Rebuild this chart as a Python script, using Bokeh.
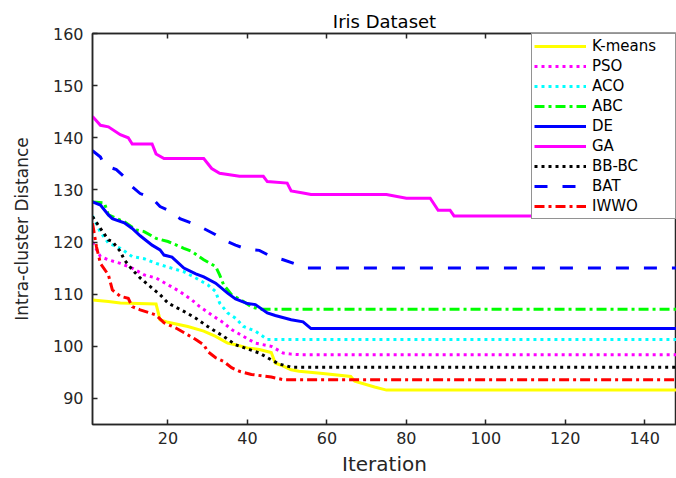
from bokeh.plotting import figure
from bokeh.models import Range1d, FixedTicker, LinearAxis, Legend, LegendItem
from bokeh.embed import file_html
from bokeh.resources import INLINE

# ---- data ----
kmeans_x = [1, 5, 8, 17, 18, 20, 25, 29, 32, 35, 37, 40, 43, 46, 47, 49, 51, 53, 59, 66, 67, 72, 75, 148]
kmeans_y = [108.9, 108.6, 108.3, 108.1, 105.1, 104.6, 103.8, 102.9, 101.9, 100.6, 100.3, 99.7, 99.4, 98.8,
            96.8, 96.2, 95.5, 95.2, 94.8, 94.2, 93.3, 92.2, 91.6, 91.6]

pso_x = [1, 3, 5, 8, 11, 14, 17, 20, 23, 26, 28, 31, 34, 36, 39, 42, 46, 49, 51, 53, 148]
pso_y = [120.0, 117.2, 116.6, 115.9, 115.0, 113.7, 113.1, 111.8, 110.5, 108.9, 107.6, 106.0, 104.5, 103.2,
         101.9, 100.6, 100.0, 98.7, 98.5, 98.4, 98.4]

aco_x = [1, 3, 5, 8, 11, 14, 17, 20, 24, 27, 30, 32, 33, 35, 37, 39, 42, 45, 148]
aco_y = [125.0, 121.9, 119.8, 118.8, 117.2, 116.8, 115.9, 115.2, 114.3, 113.1, 111.8, 110.5, 108.3, 106.4,
         105.4, 103.8, 102.9, 101.3, 101.3]

abc_x = [1, 4, 5, 8, 9, 12, 14, 17, 20, 24, 26, 29, 32, 33, 34, 36, 39, 41, 43, 148]
abc_y = [127.7, 127.5, 125.2, 124.2, 123.9, 122.3, 122.0, 120.7, 120.1, 118.8, 118.2, 116.6, 115.3, 113.7,
         111.8, 109.9, 108.6, 107.6, 107.1, 107.1]

de_x = [1, 3, 5, 6, 9, 11, 13, 16, 18, 19, 21, 24, 27, 29, 32, 35, 37, 40, 42, 45, 47, 51, 54, 56, 148]
de_y = [127.7, 127.1, 125.2, 124.5, 123.7, 122.6, 121.2, 119.4, 118.5, 117.5, 117.1, 115.0, 113.9, 113.3,
        112.1, 110.2, 109.1, 108.2, 108.0, 106.4, 105.9, 105.1, 104.7, 103.4, 103.4]

ga_x = [1, 3, 5, 8, 10, 11, 16, 17, 19, 29, 31, 33, 38, 44, 45, 50, 51, 54, 56, 75, 80, 86, 88, 91, 92, 148]
ga_y = [144.1, 142.4, 142.1, 140.6, 140.0, 138.8, 138.8, 136.9, 136.0, 136.0, 134.1, 133.2, 132.6, 132.6,
        131.6, 131.3, 129.8, 129.4, 129.1, 129.1, 128.4, 128.4, 126.1, 126.1, 125.0, 125.0]

bbbc_x = [1, 3, 5, 6, 8, 9, 11, 13, 15, 18, 20, 24, 27, 30, 34, 37, 40, 43, 46, 48, 51, 148]
bbbc_y = [124.9, 122.6, 120.4, 120.1, 118.2, 116.6, 114.7, 113.1, 111.8, 109.9, 108.3, 106.7, 105.4, 103.8,
          101.9, 100.3, 99.5, 98.7, 97.4, 96.6, 96.0, 96.0]

bat_x = [1, 3, 4, 7, 9, 11, 13, 16, 18, 21, 23, 26, 29, 32, 34, 37, 40, 43, 46, 49, 52, 55, 148]
bat_y = [137.5, 136.3, 134.7, 133.9, 132.5, 130.6, 129.3, 128.4, 126.8, 125.8, 124.5, 123.6, 122.6, 121.4,
         120.4, 119.4, 118.6, 118.4, 117.2, 116.6, 115.8, 115.0, 115.0]

iwwo_x = [1, 2, 3, 5, 6, 8, 10, 11, 13, 17, 19, 22, 25, 27, 29, 30, 32, 34, 36, 38, 41, 46, 49, 148]
iwwo_y = [123.6, 119.1, 115.9, 113.7, 110.8, 109.6, 109.2, 107.6, 107.0, 106.0, 104.5, 103.5, 102.2, 101.3,
          100.3, 99.0, 97.8, 97.1, 95.9, 95.2, 94.6, 94.1, 93.6, 93.6]

x_ticks = [20, 40, 60, 80, 100, 120, 140]
y_ticks = [90, 100, 110, 120, 130, 140, 150, 160]

FONT = "DejaVu Sans"
AX = "#262626"

p = figure(width=676, height=478, output_backend="svg", toolbar_location=None,
           x_range=Range1d(1, 148), y_range=Range1d(85, 160),
           min_border_left=92, min_border_right=0, min_border_top=33, min_border_bottom=53)
p.background_fill_color = "white"
p.border_fill_color = "white"
p.outline_line_color = AX
p.outline_line_width = 1.5
p.xgrid.visible = False
p.ygrid.visible = False

p.title.text = "Iris Dataset"
p.title.align = "center"
p.title.text_font = FONT
p.title.text_font_style = "normal"
p.title.text_font_size = "18px"
p.title.text_color = "black"
p.title.standoff = 4

for ax in (p.xaxis[0], p.yaxis[0]):
    ax.axis_line_color = AX
    ax.axis_line_width = 1.5
    ax.major_tick_line_color = AX
    ax.major_tick_line_width = 1.5
    ax.major_tick_in = 5
    ax.major_tick_out = 0
    ax.minor_tick_line_color = None
    ax.major_label_text_font = FONT
    ax.major_label_text_font_size = "16px"
    ax.major_label_text_color = AX
    ax.axis_label_text_font = FONT
    ax.axis_label_text_font_style = "normal"
    ax.axis_label_text_color = AX

p.xaxis.ticker = FixedTicker(ticks=x_ticks)
p.yaxis.ticker = FixedTicker(ticks=y_ticks)
p.xaxis.axis_label = "Iteration"
p.xaxis.axis_label_text_font_size = "20px"
p.xaxis.major_label_standoff = 7
p.xaxis.axis_label_standoff = 5
p.yaxis.axis_label = "Intra-cluster Distance"
p.yaxis.axis_label_text_font_size = "17px"
p.yaxis.major_label_standoff = 9
p.yaxis.axis_label_standoff = 18

top = LinearAxis(ticker=FixedTicker(ticks=x_ticks),
                 major_label_overrides={t: "" for t in x_ticks},
                 major_label_standoff=0, major_tick_in=5, major_tick_out=0,
                 minor_tick_line_color=None, axis_line_color=AX, axis_line_width=1.5,
                 major_tick_line_color=AX, major_tick_line_width=1.5)
p.add_layout(top, "above")

LW = 3
series = [
    ("K-means", kmeans_x, kmeans_y, "#FFFF00", "solid"),
    ("PSO", pso_x, pso_y, "#FF00FF", "3 4"),
    ("ACO", aco_x, aco_y, "#00FFFF", "3 4"),
    ("ABC", abc_x, abc_y, "#00FF00", "10 4 3 4"),
    ("DE", de_x, de_y, "#0000FF", "solid"),
    ("GA", ga_x, ga_y, "#FF00FF", "solid"),
    ("BB-BC", bbbc_x, bbbc_y, "#000000", "3 4"),
    ("BAT", bat_x, bat_y, "#0000FF", "13 15"),
    ("IWWO", iwwo_x, iwwo_y, "#FF0000", "10 4 3 4"),
]

items = []
for name, xs, ys, col, dash in series:
    r = p.line(xs, ys, line_color=col, line_width=LW, line_dash=dash, line_cap="butt", line_join="miter")
    items.append(LegendItem(label=name, renderers=[r]))

legend = Legend(items=items, location="top_right", margin=0, padding=2, spacing=0,
                glyph_width=52, glyph_height=20, label_height=20, label_width=81,
                label_standoff=6, border_line_color=AX, border_line_width=1,
                background_fill_color="white", background_fill_alpha=1.0,
                label_text_font=FONT, label_text_font_size="15px", label_text_color="black")
p.add_layout(legend)

open("out.html", "w").write(file_html(p, INLINE))
